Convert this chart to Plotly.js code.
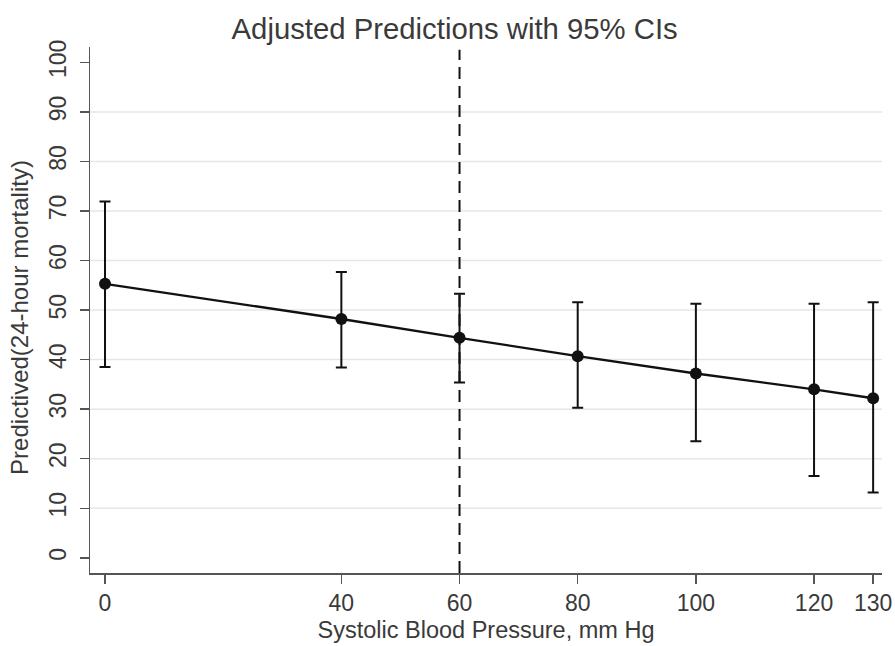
<!DOCTYPE html>
<html>
<head>
<meta charset="utf-8">
<script src="https://cdn.plot.ly/plotly-3.0.1.min.js"></script>
<style>
html,body{margin:0;padding:0;background:#fff;}
#chart{width:895px;height:646px;}
</style>
</head>
<body>
<div id="chart"></div>
<script>
// Data
var sbp = [0, 40, 60, 80, 100, 120, 130];
var predicted = [55.3, 48.2, 44.4, 40.7, 37.2, 34.0, 32.2];
var ciLow = [38.5, 38.4, 35.4, 30.3, 23.5, 16.5, 13.2];
var ciHigh = [71.9, 57.7, 53.3, 51.6, 51.3, 51.3, 51.6];
var xTickVals = [0, 40, 60, 80, 100, 120, 130];
var yTickVals = [0, 10, 20, 30, 40, 50, 60, 70, 80, 90, 100];
var gridYVals = [10, 20, 30, 40, 50, 60, 70, 80, 90];
var refLineX = 60;
var yTitleText = 'Predictived(24-hour mortality)';

var errPlus = sbp.map(function(_, i){ return ciHigh[i] - predicted[i]; });
var errMinus = sbp.map(function(_, i){ return predicted[i] - ciLow[i]; });

var FONT = 'Liberation Sans, Arial, sans-serif';
var TXT = '#3a3a3a';

var trace = {
  x: sbp,
  y: predicted,
  type: 'scatter',
  mode: 'lines+markers',
  line: {color: '#111', width: 2.3},
  marker: {color: '#111', size: 12},
  error_y: {
    type: 'data', symmetric: false,
    array: errPlus, arrayminus: errMinus,
    color: '#111', thickness: 2, width: 5.5
  },
  showlegend: false,
  hoverinfo: 'x+y'
};

var shapes = gridYVals.map(function(v){
  return {type: 'line', xref: 'paper', yref: 'y', x0: 0, x1: 1, y0: v, y1: v,
          line: {color: '#e6e6e6', width: 1.5}, layer: 'below'};
});
shapes.push({type: 'line', xref: 'x', yref: 'paper', x0: refLineX, x1: refLineX, y0: 0, y1: 0.995,
             line: {color: '#111', width: 2, dash: '12px,7px'}, layer: 'above'});

var layout = {
  width: 895, height: 646,
  paper_bgcolor: '#fff', plot_bgcolor: '#fff',
  margin: {l: 90, r: 13, t: 47, b: 73},
  font: {family: FONT, color: TXT},
  title: {text: 'Adjusted Predictions with 95% CIs', font: {size: 29.3, color: TXT, family: FONT},
          x: 0.508, xanchor: 'center', xref: 'container', y: 1 - 29/646, yanchor: 'middle', yref: 'container'},
  xaxis: {
    range: [-2.54, 131.5],
    tickmode: 'array', tickvals: xTickVals, ticktext: xTickVals.map(String),
    ticks: 'outside', ticklen: 9, tickwidth: 1.5, tickcolor: '#555',
    showline: true, linecolor: '#555', linewidth: 1.5,
    showgrid: false, zeroline: false,
    tickfont: {size: 23, color: TXT},
    ticklabelstandoff: 0,
    title: {text: 'Systolic Blood Pressure, mm Hg', font: {size: 23.5, color: TXT}, standoff: 6}
  },
  yaxis: {
    range: [-3.07, 103.1],
    tickmode: 'array', tickvals: yTickVals, ticktext: yTickVals.map(String),
    ticks: 'outside', ticklen: 9, tickwidth: 1.5, tickcolor: '#555',
    showline: true, linecolor: '#555', linewidth: 1.5,
    showgrid: false, zeroline: false,
    tickangle: -90,
    tickfont: {size: 23, color: TXT},
    ticklabelstandoff: 4
  },
  annotations: [{
    text: yTitleText, textangle: -90, showarrow: false,
    xref: 'paper', yref: 'paper', x: -70/792, y: 0.485,
    xanchor: 'center', yanchor: 'middle',
    font: {size: 24, color: TXT, family: FONT}
  }],
  shapes: shapes
};

Plotly.newPlot('chart', [trace], layout, {displayModeBar: false, staticPlot: true});
</script>
</body>
</html>
